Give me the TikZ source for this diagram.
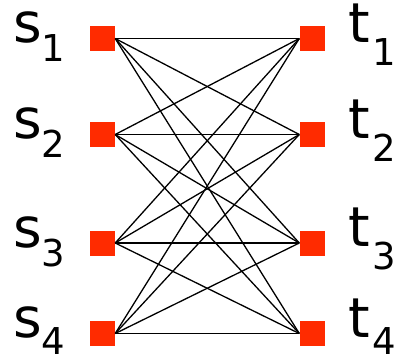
\documentclass[tikz,border=0pt]{standalone}
\usepackage{fontspec}
\setmainfont{DejaVu Sans}
\definecolor{sq}{HTML}{FF2B00}
\begin{document}
\begin{tikzpicture}[x=1pt,y=-1pt,
  vert/.style={rectangle,fill=sq,minimum size=25pt,inner sep=0pt},
  edge/.style={line width=1.3pt,black},
  lab/.style={anchor=base west,inner sep=0pt}]
\useasboundingbox (0,0) rectangle (395,362);
\newcommand{\lbl}[4]{{\fontsize{55}{55}\selectfont #1}\kern#4pt\raisebox{-#3pt}{\fontsize{37}{37}\selectfont #2}}
\foreach \i/\y/\d/\e in {1/38.5/23/19,2/134.5/23/19,3/243/23/19,4/333.5/17/17}{
  \node[vert] (s\i) at (102.5,\y) {};
  \node[vert] (t\i) at (312,\y) {};
  \node[lab] (ls\i) at (13,\y+4) {\lbl{s}{\i}{\e}{0}};
  \node[lab] (lt\i) at (348.5,\y+3.5) {\lbl{t}{\i}{\d}{2}};
}
\foreach \i in {1,...,4}{
  \foreach \j in {1,...,4}{
    \draw[edge] (s\i.east) -- (t\j.west);
  }
}
\end{tikzpicture}
\end{document}
